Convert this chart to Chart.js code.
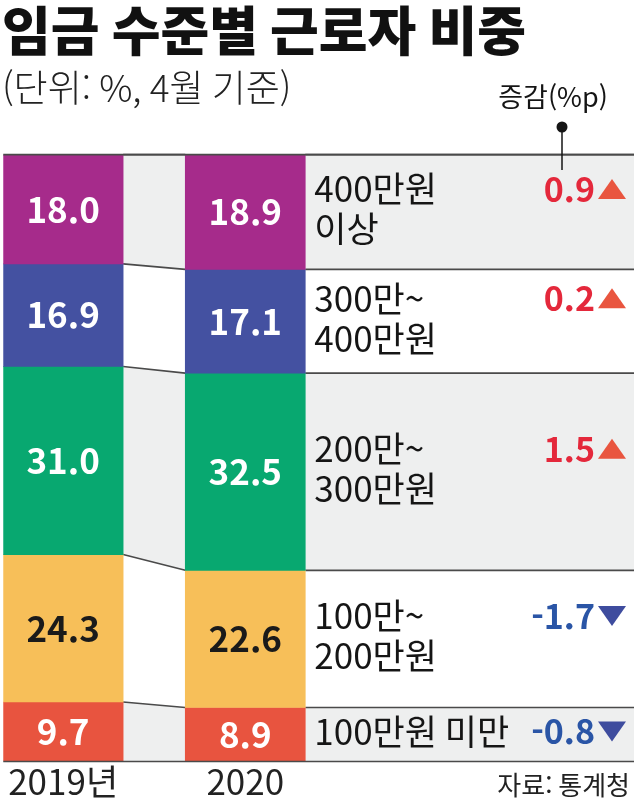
<!DOCTYPE html>
<html lang="ko">
<head>
<meta charset="utf-8">
<script src="https://cdn.jsdelivr.net/npm/chart.js@4"></script>
<style>
  html, body { margin: 0; padding: 0; background: #fff; }
  #wrap { width: 640px; height: 804px; }
</style>
</head>
<body>
<div id="wrap"><canvas id="myChart" width="640" height="804"></canvas></div>
<script>
// data
const years = ['2019년', '2020'];
const groups = ['400만원\n이상', '300만~\n400만원', '200만~\n300만원', '100만~\n200만원', '100만원 미만'];
const share2019 = [18.0, 16.9, 31.0, 24.3, 9.7];
const share2020 = [18.9, 17.1, 32.5, 22.6, 8.9];
const changes = [0.9, 0.2, 1.5, -1.7, -0.8];
const colors = ['#a62b8b', '#4451a1', '#08a870', '#f7bf59', '#e8543f'];

const FONT = '"Noto Sans CJK KR", "Noto Sans", sans-serif';
const LINE = '#4a4a4a';

// layout: bar centres 182.5px apart, chart area 2..634
const UNIT = 182.5;
const xMin = (2 - 62) / UNIT;
const xMax = xMin + 632 / UNIT;

function edges(bar) {
  const p = bar.getProps(['x', 'y', 'base', 'width'], true);
  return {
    left: p.x - p.width / 2,
    right: p.x + p.width / 2,
    top: Math.min(p.y, p.base),
    bottom: Math.max(p.y, p.base),
    cx: p.x
  };
}

const bandPlugin = {
  id: 'bands',
  beforeDatasetsDraw(chart) {
    const ctx = chart.ctx, area = chart.chartArea;
    ctx.save();
    groups.forEach((g, i) => {
      const meta = chart.getDatasetMeta(i);
      const a = edges(meta.data[0]), b = edges(meta.data[1]);
      if (i % 2 === 0) {
        ctx.fillStyle = '#eeefef';
        ctx.beginPath();
        ctx.moveTo(a.right, a.top);
        ctx.lineTo(b.left, b.top);
        ctx.lineTo(b.left, b.bottom);
        ctx.lineTo(a.right, a.bottom);
        ctx.closePath();
        ctx.fill();
        ctx.fillRect(b.right, b.top, area.right - b.right, b.bottom - b.top);
      }
      ctx.strokeStyle = LINE;
      ctx.lineWidth = 1.6;
      ctx.beginPath();
      ctx.moveTo(a.right, a.top);
      ctx.lineTo(b.left, b.top);
      ctx.moveTo(b.right, b.top);
      ctx.lineTo(area.right, b.top);
      ctx.stroke();
    });
    ctx.restore();
  },
  afterDatasetsDraw(chart) {
    const ctx = chart.ctx, area = chart.chartArea;
    ctx.save();
    const first = chart.getDatasetMeta(0);
    const last = chart.getDatasetMeta(groups.length - 1);
    const t0 = edges(first.data[0]), t1 = edges(first.data[1]);
    const l1 = edges(last.data[1]);
    ctx.strokeStyle = LINE;
    ctx.lineWidth = 1.6;
    ctx.beginPath();
    ctx.moveTo(area.left, t0.top);
    ctx.lineTo(area.right, t1.top);
    ctx.moveTo(area.left, l1.bottom);
    ctx.lineTo(area.right, l1.bottom);
    ctx.stroke();

    // values inside the bars
    ctx.textAlign = 'center';
    ctx.textBaseline = 'middle';
    ctx.font = 'bold 35px ' + FONT;
    groups.forEach((g, i) => {
      const meta = chart.getDatasetMeta(i);
      meta.data.forEach((bar, j) => {
        const e = edges(bar);
        const v = chart.data.datasets[i].data[j].y;
        ctx.fillStyle = i === 3 ? '#1a1a1a' : '#ffffff';
        ctx.fillText(v.toFixed(1), e.cx, (e.top + e.bottom) / 2);
      });
    });

    // row labels and changes
    groups.forEach((g, i) => {
      const b = edges(chart.getDatasetMeta(i).data[1]);
      const mid = (b.top + b.bottom) / 2 - 3;
      const lines = g.split('\n');
      const ys = lines.length === 2 ? [mid - 20, mid + 20] : [mid];
      ctx.textAlign = 'left';
      ctx.fillStyle = '#151515';
      ctx.font = '35px ' + FONT;
      lines.forEach((s, k) => ctx.fillText(s, b.right + 9, ys[k]));

      const up = changes[i] > 0;
      ctx.textAlign = 'right';
      ctx.font = 'bold 34px ' + FONT;
      ctx.fillStyle = up ? '#e4283b' : '#2a55a6';
      ctx.fillText(changes[i].toFixed(1), area.right - 39, ys[0]);
      const tx = area.right - 22, ty = ys[0];
      ctx.fillStyle = up ? '#e9553f' : '#3e4c9e';
      ctx.beginPath();
      if (up) {
        ctx.moveTo(tx, ty - 10); ctx.lineTo(tx + 14, ty + 10); ctx.lineTo(tx - 14, ty + 10);
      } else {
        ctx.moveTo(tx - 14, ty - 10); ctx.lineTo(tx + 14, ty - 10); ctx.lineTo(tx, ty + 10);
      }
      ctx.closePath();
      ctx.fill();
    });

    // change header with pointer
    ctx.fillStyle = '#151515';
    ctx.textAlign = 'center';
    ctx.font = '27px ' + FONT;
    ctx.fillText('증감(%p)', 553, 97);
    ctx.beginPath();
    ctx.arc(562, 127, 5.5, 0, Math.PI * 2);
    ctx.fill();
    ctx.strokeStyle = '#151515';
    ctx.lineWidth = 1.5;
    ctx.beginPath();
    ctx.moveTo(562, 127);
    ctx.lineTo(562, 170);
    ctx.stroke();

    // source
    ctx.textAlign = 'right';
    ctx.font = '26px ' + FONT;
    ctx.fillStyle = '#222';
    ctx.fillText('자료: 통계청', 630, 785);
    ctx.restore();
  }
};

const datasets = groups.map((g, i) => ({
  label: g,
  data: [{ x: 0, y: share2019[i] }, { x: 1, y: share2020[i] }],
  backgroundColor: colors[i],
  borderWidth: 0,
  barThickness: 120
}));

const myChart = new Chart(document.getElementById('myChart'), {
  type: 'bar',
  data: { datasets: datasets },
  options: {
    responsive: false,
    animation: false,
    devicePixelRatio: 1,
    layout: { padding: { top: 0, left: 2, right: 6, bottom: 2 } },
    plugins: {
      legend: { display: false },
      tooltip: { enabled: false },
      title: {
        display: true,
        text: '임금 수준별 근로자 비중',
        align: 'start',
        color: '#111',
        font: { family: FONT, size: 53, weight: '900', lineHeight: 1.15 },
        padding: { top: 0, bottom: 0 }
      },
      subtitle: {
        display: true,
        text: '(단위: %, 4월 기준)',
        align: 'start',
        color: '#222',
        font: { family: FONT, size: 37, weight: '300', lineHeight: 1.1 },
        padding: { top: 7, bottom: 46 }
      }
    },
    scales: {
      x: {
        type: 'linear',
        stacked: true,
        offset: false,
        min: xMin,
        max: xMax,
        grid: { display: false, drawTicks: false },
        border: { display: false },
        ticks: {
          stepSize: 1,
          includeBounds: false,
          autoSkip: false,
          maxRotation: 0,
          padding: 8,
          color: '#222',
          font: { family: FONT, size: 35, lineHeight: 0.7 },
          callback: v => years[v] ?? ''
        }
      },
      y: {
        display: false,
        stacked: true,
        min: 0,
        max: 100,
        reverse: true
      }
    }
  },
  plugins: [bandPlugin]
});
</script>
</body>
</html>
